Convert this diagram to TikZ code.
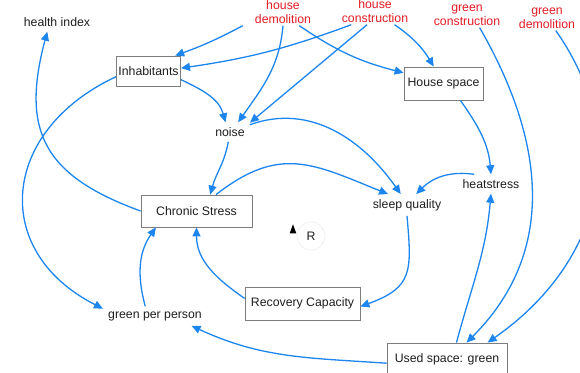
\documentclass[tikz,border=0pt]{standalone}
\usepackage{fontspec}
\setmainfont{Liberation Sans}
\usetikzlibrary{arrows.meta, positioning, shapes.geometric}
\definecolor{linkblue}{RGB}{28,134,238}
\definecolor{flowred}{RGB}{228,28,36}
\definecolor{boxgray}{RGB}{125,125,125}
\definecolor{txtgray}{RGB}{30,30,30}

\begin{document}
\begin{tikzpicture}[x=1pt, y=1pt,
    font=\fontsize{12.3}{14}\selectfont,
    var/.style={inner sep=5pt, text=txtgray},
    box/.style={draw=boxgray, line width=0.8pt, fill=white, text=txtgray, inner sep=2pt},
    flow/.style={align=center, inner sep=2pt, text=flowred},
    arr/.style={-{Triangle[length=9pt,width=8pt]}, line width=1.3pt, draw=linkblue},
    loopmark/.style={isosceles triangle, isosceles triangle apex angle=40,
                     shape border rotate=90, fill=black, inner sep=0pt, minimum height=9pt},
    loopr/.style={circle, draw=black!6, line width=0.8pt, minimum size=28pt, inner sep=0pt, text=txtgray}]
  \useasboundingbox (0,0) rectangle (580,372);

  % stocks and variables
  \node[var] (health) at (57,350) {health index};
  \node[flow] (hdem) at (283,360) {house\\demolition};
  \node[flow] (hcon) at (375,361) {house\\construction};
  \node[flow] (gcon) at (467,357) {green\\construction};
  \node[flow] (gdem) at (547,354) {green\\demolition};
  \node[box, minimum width=63pt, minimum height=30pt] (inhab) at (148.5,301) {Inhabitants};
  \node[box, minimum width=79pt, minimum height=33pt] (house) at (443.5,288.5) {House space};
  \node[var] (noise) at (230,240) {noise};
  \node[var] (heat) at (491,188) {heatstress};
  \node[var] (sleep) at (407,167) {sleep quality};
  \node[box, minimum width=111pt, minimum height=32pt] (chronic) at (196.5,161) {Chronic Stress};
  \node[box, minimum width=115pt, minimum height=33pt] (recov) at (302.5,68.5) {Recovery Capacity};
  \node[var] (gpp) at (155,56) {green per person};
  \node[box, minimum width=120pt, minimum height=32pt] (used) at (447,13) {Used space: green};

  % loop marker
  \node[loopr] (rloop) at (311,136) {R};
  \node[loopmark] (rmark) at (293,141) {};

  % links
  \draw[arr] ([xshift=-10pt]hdem.south west) to[bend left=4] (inhab.30);
  \draw[arr] (hcon.210) to[bend left=6] (inhab.5);
  \draw[arr] (hdem.south) to[out=-95, in=55] (noise.50);
  \draw[arr] (hcon.-120) -- (noise.25);
  \draw[arr] (hdem.-40) to[bend right=10] (house.165);
  \draw[arr] (hcon.-35) to[bend left=12] (house.120);
  \draw[arr] (inhab.-15) to[out=-25, in=105] (noise.115);
  \draw[arr] (inhab.190) to[out=205, in=153, looseness=1.4] (gpp.172);
  \draw[arr] (chronic.west) to[out=160, in=-105, looseness=1.3] (health.225);
  \draw[arr] (noise.-100) to[out=-100, in=75] (chronic.50);
  \draw[arr] (noise.20) to[out=20, in=125] (sleep.120);
  \draw[arr] (chronic.40) to[out=38, in=158, looseness=1.2] (sleep.150);
  \draw[arr] (heat.150) to[out=172, in=45] (sleep.50);
  \draw[arr] (house.-45) to[out=-55, in=95] (heat.north);
  \draw[arr] (sleep.south) to[out=-85, in=20, looseness=1.4] (recov.-3);
  \draw[arr] (recov.175) to[out=145, in=-90] (chronic.south);
  \draw[arr] (gpp.135) to[out=105, in=-125] (chronic.202);
  \draw[arr] (used.184) to[out=176, in=-25] (gpp.-15);
  \draw[arr] (used.60) to[out=75, in=-95] (heat.south);
  \draw[arr] (gcon.-45) to[out=-60, in=45, looseness=1.05] (used.40);
  \draw[arr] (gdem.-55) to[out=-55, in=35, looseness=1.1] (used.22);
\end{tikzpicture}
\end{document}
